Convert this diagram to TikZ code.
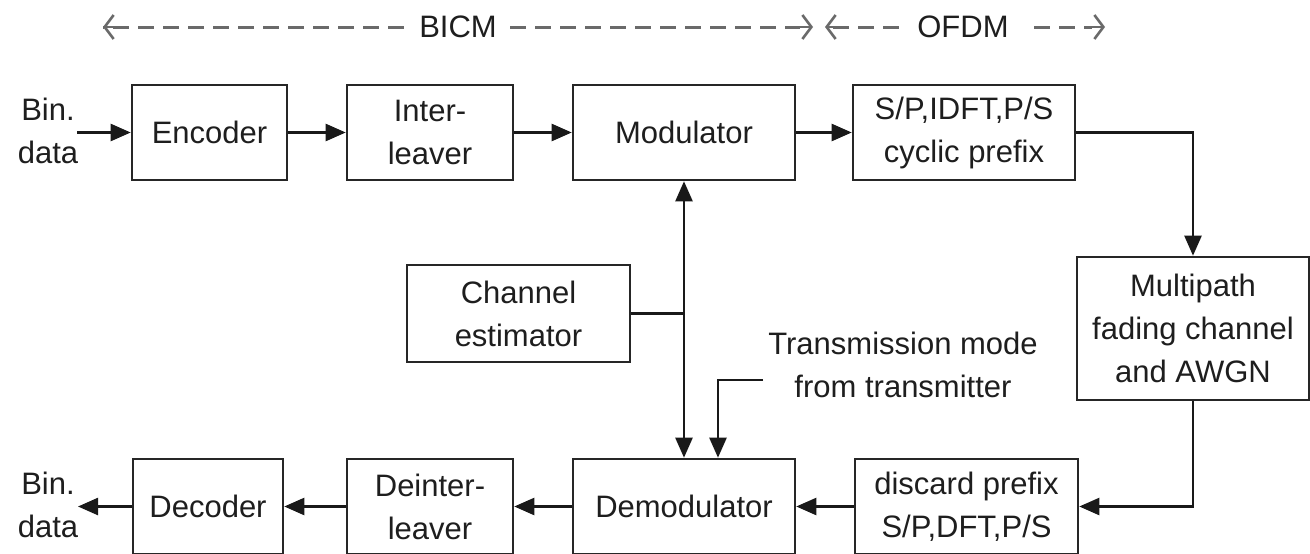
\documentclass[tikz,border=0pt]{standalone}
\usepackage{fontspec}
\setmainfont{Liberation Sans}
\usetikzlibrary{arrows.meta}
\definecolor{txt}{HTML}{1E1E1E}
\definecolor{dashc}{HTML}{6A6A6A}
\begin{document}
\begin{tikzpicture}[x=1pt,y=-1pt,
  every node/.style={font=\fontsize{31}{43}\selectfont, text=txt, align=center},
  box/.style={draw=black!85, line width=2.6pt, inner sep=0pt, minimum height=95pt},
  conn/.style={draw=black!90, line width=2.4pt, -{Triangle[length=20pt,width=17pt]}},
  wire/.style={draw=black!90, line width=2.4pt},
  dashline/.style={draw=dashc, line width=3pt, dash pattern=on 16pt off 9pt},
  tip/.style={draw=dashc, line width=2.6pt, -{Straight Barb[length=9pt,width=24pt]}}
]
\useasboundingbox (0,0) rectangle (1310,554);
\fill[white] (0,0) rectangle (1310,554);

% top row
\node[box, minimum width=155pt] (enc) at (209.5,132.5) {Encoder};
\node[box, minimum width=166pt] (intl) at (430,132.5) {Inter-\\leaver};
\node[box, minimum width=222pt] (mod) at (684,132.5) {Modulator};
\node[box, minimum width=222pt] (sp) at (964,132.5) {S/P,IDFT,P/S\\cyclic prefix};
% channel
\node[box, minimum width=232pt, minimum height=143pt] (mp) at (1193,328.5) {Multipath\\fading channel\\and AWGN};
% estimator
\node[box, minimum width=223pt, minimum height=97pt] (ce) at (518.5,313.5) {Channel\\estimator};
% bottom row
\node[box, minimum width=150pt] (dec) at (208,506.5) {Decoder};
\node[box, minimum width=166pt] (deint) at (430,506.5) {Deinter-\\leaver};
\node[box, minimum width=222pt] (demod) at (684,506.5) {Demodulator};
\node[box, minimum width=223pt] (disc) at (966.5,506.5) {discard prefix\\S/P,DFT,P/S};

% binary data labels
\node (binin) at (48,131) {Bin.\\data};
\node (binout) at (48,505) {Bin.\\data};
\coordinate (inS) at (77,132.5);
\coordinate (outE) at (78,506.5);

% top row connectors
\draw[conn] (inS) -- (enc.west);
\draw[conn] (enc.east) -- (intl.west);
\draw[conn] (intl.east) -- (mod.west);
\draw[conn] (mod.east) -- (sp.west);
\draw[conn] (sp.east) -| (mp.north);
\draw[conn] (mp.south) |- (disc.east);
% bottom row connectors
\draw[conn] (disc.west) -- (demod.east);
\draw[conn] (demod.west) -- (deint.east);
\draw[conn] (deint.west) -- (dec.east);
\draw[conn] (dec.west) -- (outE);

% estimator links
\coordinate (junc) at (684,313.5);
\draw[wire] (ce.east) -- (junc);
\draw[conn] (junc) -- (mod.south);
\draw[conn] (junc) -- (demod.north);

% transmission mode
\node (tm) at (903,365) {Transmission mode\\from transmitter};
\coordinate (tmA) at (763,380);
\coordinate (tmB) at (718,380);
\draw[conn] (tmA) -- (tmB) -- (tmB |- demod.north);

% section labels
\node (bicm) at (458,27) {BICM};
\node (ofdm) at (963,27) {OFDM};
\coordinate (b1) at (103,27);
\coordinate (b2) at (813,27);
\coordinate (o1) at (825,27);
\coordinate (o2) at (1105,27);
\draw[dashline] (bicm.west) ++(-12,0) -- (b1);
\draw[tip] (118,27) -- (b1);
\draw[dashline] (bicm.east) ++(10,0) -- (800,27);
\draw[tip] (795,27) -- (b2);
\draw[dashline] (ofdm.west) ++(-15,0) -- (o1);
\draw[tip] (840,27) -- (o1);
\draw[dashline] (ofdm.east) ++(22,0) -- (1092,27);
\draw[tip] (1088,27) -- (o2);
\end{tikzpicture}
\end{document}
